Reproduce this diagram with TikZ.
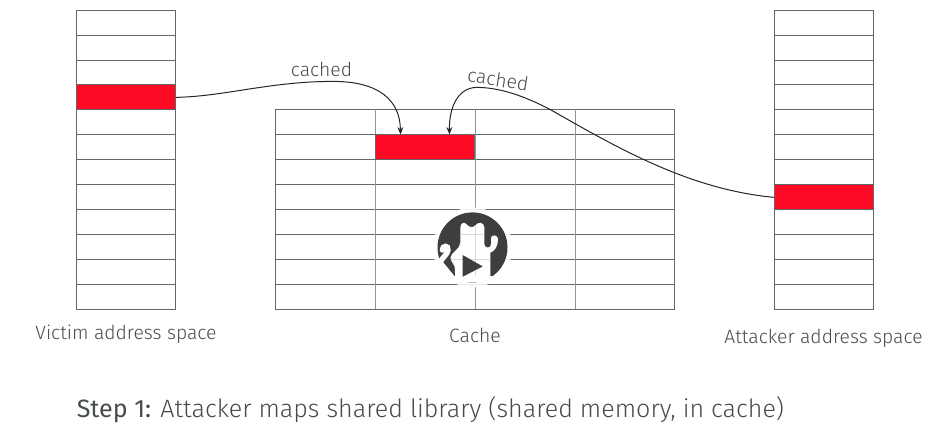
\documentclass[tikz,border=0pt]{standalone}
\usepackage{fontspec}
\setmainfont{Fira Sans}[UprightFont=* Light,BoldFont=*]
\usetikzlibrary{arrows.meta}
\definecolor{txt}{HTML}{464B4E}
\definecolor{gridc}{HTML}{63676A}
\definecolor{redc}{HTML}{FF0A24}
\definecolor{logoc}{HTML}{3E3E3E}
\tikzset{
  px/.style={x=0.75pt,y=-0.75pt},
  cell/.style={draw=gridc,line width=0.7pt},
  vline/.style={draw=gridc!70,line width=0.7pt},
  redcell/.style={draw=gridc,fill=redc,line width=0.7pt,inner sep=0pt,minimum height=18.75pt,anchor=north west},
  lbl/.style={text=txt,font=\fontsize{14.5pt}{17pt}\selectfont,inner sep=0pt,anchor=center},
  conn/.style={draw=black!85,line width=0.75pt,-{Stealth[length=5.5pt,width=4.5pt]}},
}
\newcommand{\catpath}{(70,215) -- (68,178) .. controls (62,165) and (54,158) .. (56,148) .. controls (58,135) and (85,125) .. (85,105) -- (85,60) .. controls (85,46) and (98,42) .. (105,52) .. controls (112,60) and (122,62) .. (130,54) .. controls (138,42) and (156,44) .. (157,60) -- (157,110) .. controls (157,123) and (177,125) .. (177,110) -- (177,92) .. controls (177,81) and (198,81) .. (198,95) .. controls (198,115) and (190,130) .. (175,136) -- (175,215) -- cycle}
\begin{document}
\begin{tikzpicture}[px]
\useasboundingbox (0,0) rectangle (949,439);
\begin{scope}[shift={(0,-0.6)}]
\foreach \y in {36,61,85,110,135,160,185,210,235,260,285}{
  \draw[cell] (76,\y) -- (175,\y);
  \draw[cell] (774,\y) -- (873,\y);
}
\draw[cell] (76,11) rectangle (175,310);
\draw[cell] (774,11) rectangle (873,310);
\node[redcell,minimum width=74.25pt] (vred) at (76,85) {};
\node[redcell,minimum width=74.25pt] (ared) at (774,185) {};
% cache
\foreach \y in {135,160,185,210,235,260,285}{
  \draw[cell] (275,\y) -- (674,\y);
}
\draw[cell] (275,110) rectangle (674,310);
\foreach \x in {375,475,575}{ \draw[vline] (\x,110) -- (\x,310); }
\node[redcell,minimum width=74.5pt] (cred) at (375,135) {};
% connectors
\coordinate (vt) at (400.5,135);
\coordinate (at) at (449.5,135);
\draw[conn] (vred.east) .. controls (225,97) and (270,82) .. (333,82) .. controls (378,82) and (400,100) .. (vt);
\draw[conn] (ared.west) .. controls (690,190) and (620,150) .. (550,110) .. controls (525,97) and (500,88) .. (477,88) .. controls (458,88) and (449,108) .. (at);
% logo
\fill[white,opacity=.88] (472.5,248) circle (40);
\fill[logoc] (472.5,248) circle (35);
\begin{scope}[shift={(432,208)},x=0.25pt,y=-0.25pt]
  \fill[white] \catpath;
  \begin{scope}
    \clip \catpath;
    \draw[gray!30,line width=0.6pt] (0,81) -- (240,81) (0,156) -- (240,156) (129,0) -- (129,240);
  \end{scope}
  \fill[white] (26,156) -- (38,170) -- (68,207) -- (68,225) -- (0,225) -- (0,170) -- cycle;
  \draw[white,line width=4pt,line cap=round] (31,128) .. controls (31,113) and (50,113) .. (48,128) .. controls (46,142) and (33,148) .. (26,162);
  \fill[white] (60,207) rectangle (185,225);
  \fill[logoc] (92,143) -- (152,177) -- (92,208) -- cycle;
\end{scope}
% labels
\node[lbl] (l1) at (126,335) {Victim address space};
\node[lbl] (l2) at (475,336) {Cache};
\node[lbl] (l3) at (823.5,339) {Attacker address space};
\node[lbl] (c1) at (321.5,70) {cached};
\node[lbl,rotate=-9] (c2) at (498,80) {cached};
\node[text=txt,font=\fontsize{18.8pt}{22pt}\selectfont,inner sep=0pt,anchor=west] (cap) at (76.5,410) {\textbf{Step 1:}\hspace{7pt}Attacker maps shared library (shared memory, in cache)};
\end{scope}
\end{tikzpicture}
\end{document}
